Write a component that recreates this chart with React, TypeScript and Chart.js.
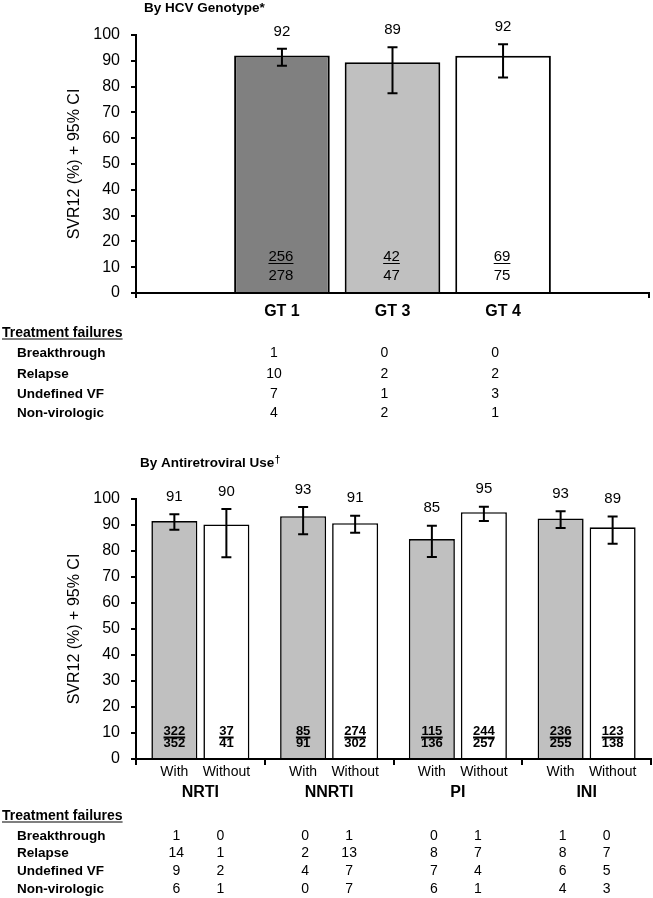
import React, { useEffect, useRef } from 'react';
import { Chart, registerables } from 'chart.js';

Chart.register(...registerables);

const FAMILY = '"Liberation Sans", Arial, Helvetica, sans-serif';
const BLACK = '#000000';

// ---------- Panel A: by HCV genotype ----------
const gtCategories = ['GT 1', 'GT 3', 'GT 4'];
const gtIndex = [1, 2, 3];
const gtSvr = [92.1, 89.4, 92.0];
const gtCiLow = [88.1, 77.4, 83.5];
const gtCiHigh = [94.7, 95.3, 96.4];
const gtSvrLabels = ['92', '89', '92'];
const gtResponders = ['256', '42', '69'];
const gtTotals = ['278', '47', '75'];
const gtFill = ['#808080', '#c0c0c0', '#ffffff'];

const failureTypes = ['Breakthrough', 'Relapse', 'Undefined VF', 'Non-virologic'];
const gtBreakthrough = [1, 0, 0];
const gtRelapse = [10, 2, 2];
const gtUndefinedVF = [7, 1, 3];
const gtNonVirologic = [4, 2, 1];

// ---------- Panel B: by antiretroviral use ----------
const arvClasses = ['NRTI', 'NNRTI', 'PI', 'INI'];
const arvGroups = ['With', 'Without'];
const withSvr = [91.5, 93.4, 84.6, 92.5];
const withoutSvr = [90.2, 90.7, 94.9, 89.1];
const withCiLow = [88.2, 86.4, 77.7, 88.8];
const withCiHigh = [94.1, 96.9, 89.7, 95.3];
const withoutCiLow = [77.6, 87.0, 91.5, 82.8];
const withoutCiHigh = [96.2, 93.6, 97.0, 93.3];
const withSvrLabels = ['91', '93', '85', '93'];
const withoutSvrLabels = ['90', '91', '95', '89'];
const withResponders = ['322', '85', '115', '236'];
const withTotals = ['352', '91', '136', '255'];
const withoutResponders = ['37', '274', '244', '123'];
const withoutTotals = ['41', '302', '257', '138'];

const withBreakthrough = [1, 0, 0, 1];
const withoutBreakthrough = [0, 1, 1, 0];
const withRelapse = [14, 2, 8, 8];
const withoutRelapse = [1, 13, 7, 7];
const withUndefinedVF = [9, 4, 7, 6];
const withoutUndefinedVF = [2, 7, 4, 5];
const withNonVirologic = [6, 0, 6, 4];
const withoutNonVirologic = [1, 7, 1, 3];

const gtFailureRows = [gtBreakthrough, gtRelapse, gtUndefinedVF, gtNonVirologic];
const withFailureRows = [withBreakthrough, withRelapse, withUndefinedVF, withNonVirologic];
const withoutFailureRows = [withoutBreakthrough, withoutRelapse, withoutUndefinedVF, withoutNonVirologic];

function font(size: number, bold = false) {
  return `${bold ? 'bold ' : ''}${size}px ${FAMILY}`;
}

function text(ctx: CanvasRenderingContext2D, s: string, x: number, y: number, f: string, align: CanvasTextAlign = 'center') {
  ctx.font = f;
  ctx.textAlign = align;
  ctx.textBaseline = 'middle';
  ctx.fillStyle = BLACK;
  ctx.fillText(s, x, y);
}

function hline(ctx: CanvasRenderingContext2D, x1: number, x2: number, y: number, w: number) {
  ctx.save();
  ctx.strokeStyle = BLACK;
  ctx.lineWidth = w;
  ctx.beginPath();
  ctx.moveTo(x1, y);
  ctx.lineTo(x2, y);
  ctx.stroke();
  ctx.restore();
}

function errorBar(ctx: CanvasRenderingContext2D, x: number, yLo: number, yHi: number, cap: number) {
  ctx.save();
  ctx.strokeStyle = BLACK;
  ctx.lineWidth = 2;
  ctx.beginPath();
  ctx.moveTo(x, yLo);
  ctx.lineTo(x, yHi);
  ctx.moveTo(x - cap, yLo);
  ctx.lineTo(x + cap, yLo);
  ctx.moveTo(x - cap, yHi);
  ctx.lineTo(x + cap, yHi);
  ctx.stroke();
  ctx.restore();
}

function drawTable(
  ctx: CanvasRenderingContext2D,
  headY: number,
  rowYs: number[],
  columns: { x: number; values: number[] }[]
) {
  const head = 'Treatment failures';
  text(ctx, head, 2, headY, font(14, true), 'left');
  ctx.font = font(14, true);
  const w = ctx.measureText(head).width;
  hline(ctx, 2, 2 + w, headY + 6, 1.2);
  failureTypes.forEach((label, r) => {
    text(ctx, label, 17, rowYs[r], font(13.5, true), 'left');
    columns.forEach((col) => {
      text(ctx, String(col.values[r]), col.x, rowYs[r], font(14));
    });
  });
}

const yAxisCommon = (width: number) => ({
  min: 0,
  max: 100,
  ticks: { stepSize: 10, padding: 11, color: BLACK, font: { family: FAMILY, size: 16 } },
  grid: { drawOnChartArea: false, drawTicks: true, tickLength: 5, lineWidth: 2, color: BLACK },
  border: { display: true, color: BLACK, width: 2 },
  title: {
    display: true,
    text: 'SVR12 (%) + 95% CI',
    color: BLACK,
    font: { family: FAMILY, size: 16 },
    padding: { top: 65, bottom: 0 },
  },
  afterFit: (s: any) => {
    s.width = width;
  },
});

const topDecor = {
  id: 'topDecor',
  afterDatasetsDraw(chart: any) {
    const ctx = chart.ctx as CanvasRenderingContext2D;
    const ys = chart.scales.y;
    const bottom = chart.chartArea.bottom;
    const meta = chart.getDatasetMeta(0);
    meta.data.forEach((bar: any, i: number) => {
      const x = bar.x;
      const yHi = ys.getPixelForValue(gtCiHigh[i]);
      const yLo = ys.getPixelForValue(gtCiLow[i]);
      errorBar(ctx, x, yLo, yHi, 5);
      text(ctx, gtSvrLabels[i], x, yHi - 17, font(15));
      text(ctx, gtResponders[i], x - 1, bottom - 36, font(15));
      ctx.font = font(15);
      const w = ctx.measureText(gtResponders[i]).width;
      hline(ctx, x - 1 - w / 2, x - 1 + w / 2, bottom - 29.5, 1);
      text(ctx, gtTotals[i], x - 1, bottom - 17, font(15));
    });
  },
  afterDraw(chart: any) {
    const ctx = chart.ctx as CanvasRenderingContext2D;
    text(ctx, 'By HCV Genotype*', 144, 8, font(13.5, true), 'left');
    const meta = chart.getDatasetMeta(0);
    const cols = meta.data.map((bar: any, i: number) => ({
      x: bar.x - 8,
      values: gtFailureRows.map((row) => row[i]),
    }));
    drawTable(ctx, 333, [353, 374, 394, 413], cols);
  },
};

const bottomDecor = {
  id: 'bottomDecor',
  afterDatasetsDraw(chart: any) {
    const ctx = chart.ctx as CanvasRenderingContext2D;
    const ys = chart.scales.y;
    const bottom = chart.chartArea.bottom;
    const sets = [
      { lo: withCiLow, hi: withCiHigh, lab: withSvrLabels, n: withResponders, d: withTotals },
      { lo: withoutCiLow, hi: withoutCiHigh, lab: withoutSvrLabels, n: withoutResponders, d: withoutTotals },
    ];
    sets.forEach((s, di) => {
      const meta = chart.getDatasetMeta(di);
      meta.data.forEach((bar: any, i: number) => {
        const x = bar.x;
        const yHi = ys.getPixelForValue(s.hi[i]);
        const yLo = ys.getPixelForValue(s.lo[i]);
        errorBar(ctx, x, yLo, yHi, 5);
        text(ctx, s.lab[i], x, yHi - 17.5, font(15));
        text(ctx, s.n[i], x, bottom - 27.5, font(13, true));
        text(ctx, s.d[i], x, bottom - 15.5, font(13, true));
        ctx.font = font(13, true);
        const w = Math.max(ctx.measureText(s.n[i]).width, ctx.measureText(s.d[i]).width);
        hline(ctx, x - w / 2, x + w / 2, bottom - 21.5, 2);
        text(ctx, arvGroups[di], x, bottom + 13, font(14));
      });
    });
  },
  afterDraw(chart: any) {
    const ctx = chart.ctx as CanvasRenderingContext2D;
    const titleMain = 'By Antiretroviral Use';
    text(ctx, titleMain, 140, 23, font(13.5, true), 'left');
    ctx.font = font(13.5, true);
    const tw = ctx.measureText(titleMain).width;
    text(ctx, '\u2020', 140 + tw + 0.5, 20, font(10, true), 'left');
    const mWith = chart.getDatasetMeta(0);
    const mWithout = chart.getDatasetMeta(1);
    const cols: { x: number; values: number[] }[] = [];
    arvClasses.forEach((_, i) => {
      cols.push({ x: mWith.data[i].x + 2, values: withFailureRows.map((r) => r[i]) });
      cols.push({ x: mWithout.data[i].x - 6, values: withoutFailureRows.map((r) => r[i]) });
    });
    drawTable(ctx, 376, [396, 413, 431, 449], cols);
  },
};

function topConfig(): any {
  return {
    type: 'bar',
    data: {
      datasets: [
        {
          data: gtIndex.map((x, i) => ({ x, y: gtSvr[i] })),
          backgroundColor: gtFill,
          borderColor: BLACK,
          borderWidth: 2,
          barPercentage: 0.865,
          categoryPercentage: 1,
        },
      ],
    },
    options: {
      animation: false,
      responsive: false,
      events: [],
      layout: { padding: { top: 35, right: 2, bottom: 107, left: 0 } },
      plugins: { legend: { display: false }, tooltip: { enabled: false }, title: { display: false } },
      scales: {
        x: {
          type: 'linear',
          min: -0.32,
          max: 4.32,
          offset: false,
          afterBuildTicks: (s: any) => {
            s.ticks = [s.min, ...gtIndex, s.max].map((v) => ({ value: v }));
          },
          ticks: {
            autoSkip: false,
            maxRotation: 0,
            padding: 4,
            color: BLACK,
            font: { family: FAMILY, size: 16, weight: 'bold' },
            callback: (v: number) => {
              const i = gtIndex.indexOf(v);
              return i >= 0 ? gtCategories[i] : '';
            },
          },
          grid: {
            offset: false,
            drawOnChartArea: false,
            drawTicks: true,
            tickLength: 5,
            lineWidth: 2,
            color: (c: any) => (c.tick && gtIndex.includes(c.tick.value) ? 'rgba(0,0,0,0)' : BLACK),
          },
          border: { display: true, color: BLACK, width: 2 },
          afterFit: (s: any) => {
            s.height = 40;
          },
        },
        y: yAxisCommon(136),
      },
    },
    plugins: [topDecor],
  };
}

function bottomConfig(): any {
  return {
    type: 'bar',
    data: {
      labels: arvClasses,
      datasets: [
        {
          label: arvGroups[0],
          data: withSvr,
          backgroundColor: '#c0c0c0',
          borderColor: BLACK,
          borderWidth: 1.6,
          barPercentage: 0.885,
          categoryPercentage: 0.808,
        },
        {
          label: arvGroups[1],
          data: withoutSvr,
          backgroundColor: '#ffffff',
          borderColor: BLACK,
          borderWidth: 1.6,
          barPercentage: 0.885,
          categoryPercentage: 0.808,
        },
      ],
    },
    options: {
      animation: false,
      responsive: false,
      events: [],
      layout: { padding: { top: 59, right: 2, bottom: 94, left: 0 } },
      plugins: { legend: { display: false }, tooltip: { enabled: false }, title: { display: false } },
      scales: {
        x: {
          type: 'category',
          offset: true,
          ticks: {
            autoSkip: false,
            maxRotation: 0,
            padding: 18,
            color: BLACK,
            font: { family: FAMILY, size: 16, weight: 'bold' },
          },
          grid: {
            offset: true,
            drawOnChartArea: false,
            drawTicks: true,
            tickLength: 6,
            lineWidth: 2,
            color: BLACK,
          },
          border: { display: true, color: BLACK, width: 2 },
          afterFit: (s: any) => {
            s.height = 45;
          },
        },
        y: yAxisCommon(136),
      },
    },
    plugins: [bottomDecor],
  };
}

export default function App() {
  const topRef = useRef<HTMLCanvasElement>(null);
  const botRef = useRef<HTMLCanvasElement>(null);
  useEffect(() => {
    const c1 = new Chart(topRef.current as HTMLCanvasElement, topConfig());
    const c2 = new Chart(botRef.current as HTMLCanvasElement, bottomConfig());
    return () => {
      c1.destroy();
      c2.destroy();
    };
  }, []);
  return (
    <div style={{ position: 'absolute', left: 0, top: 0, width: 653, height: 898, background: '#ffffff' }}>
      <canvas ref={topRef} width={653} height={440} style={{ display: 'block' }} />
      <canvas ref={botRef} width={653} height={458} style={{ display: 'block' }} />
    </div>
  );
}
